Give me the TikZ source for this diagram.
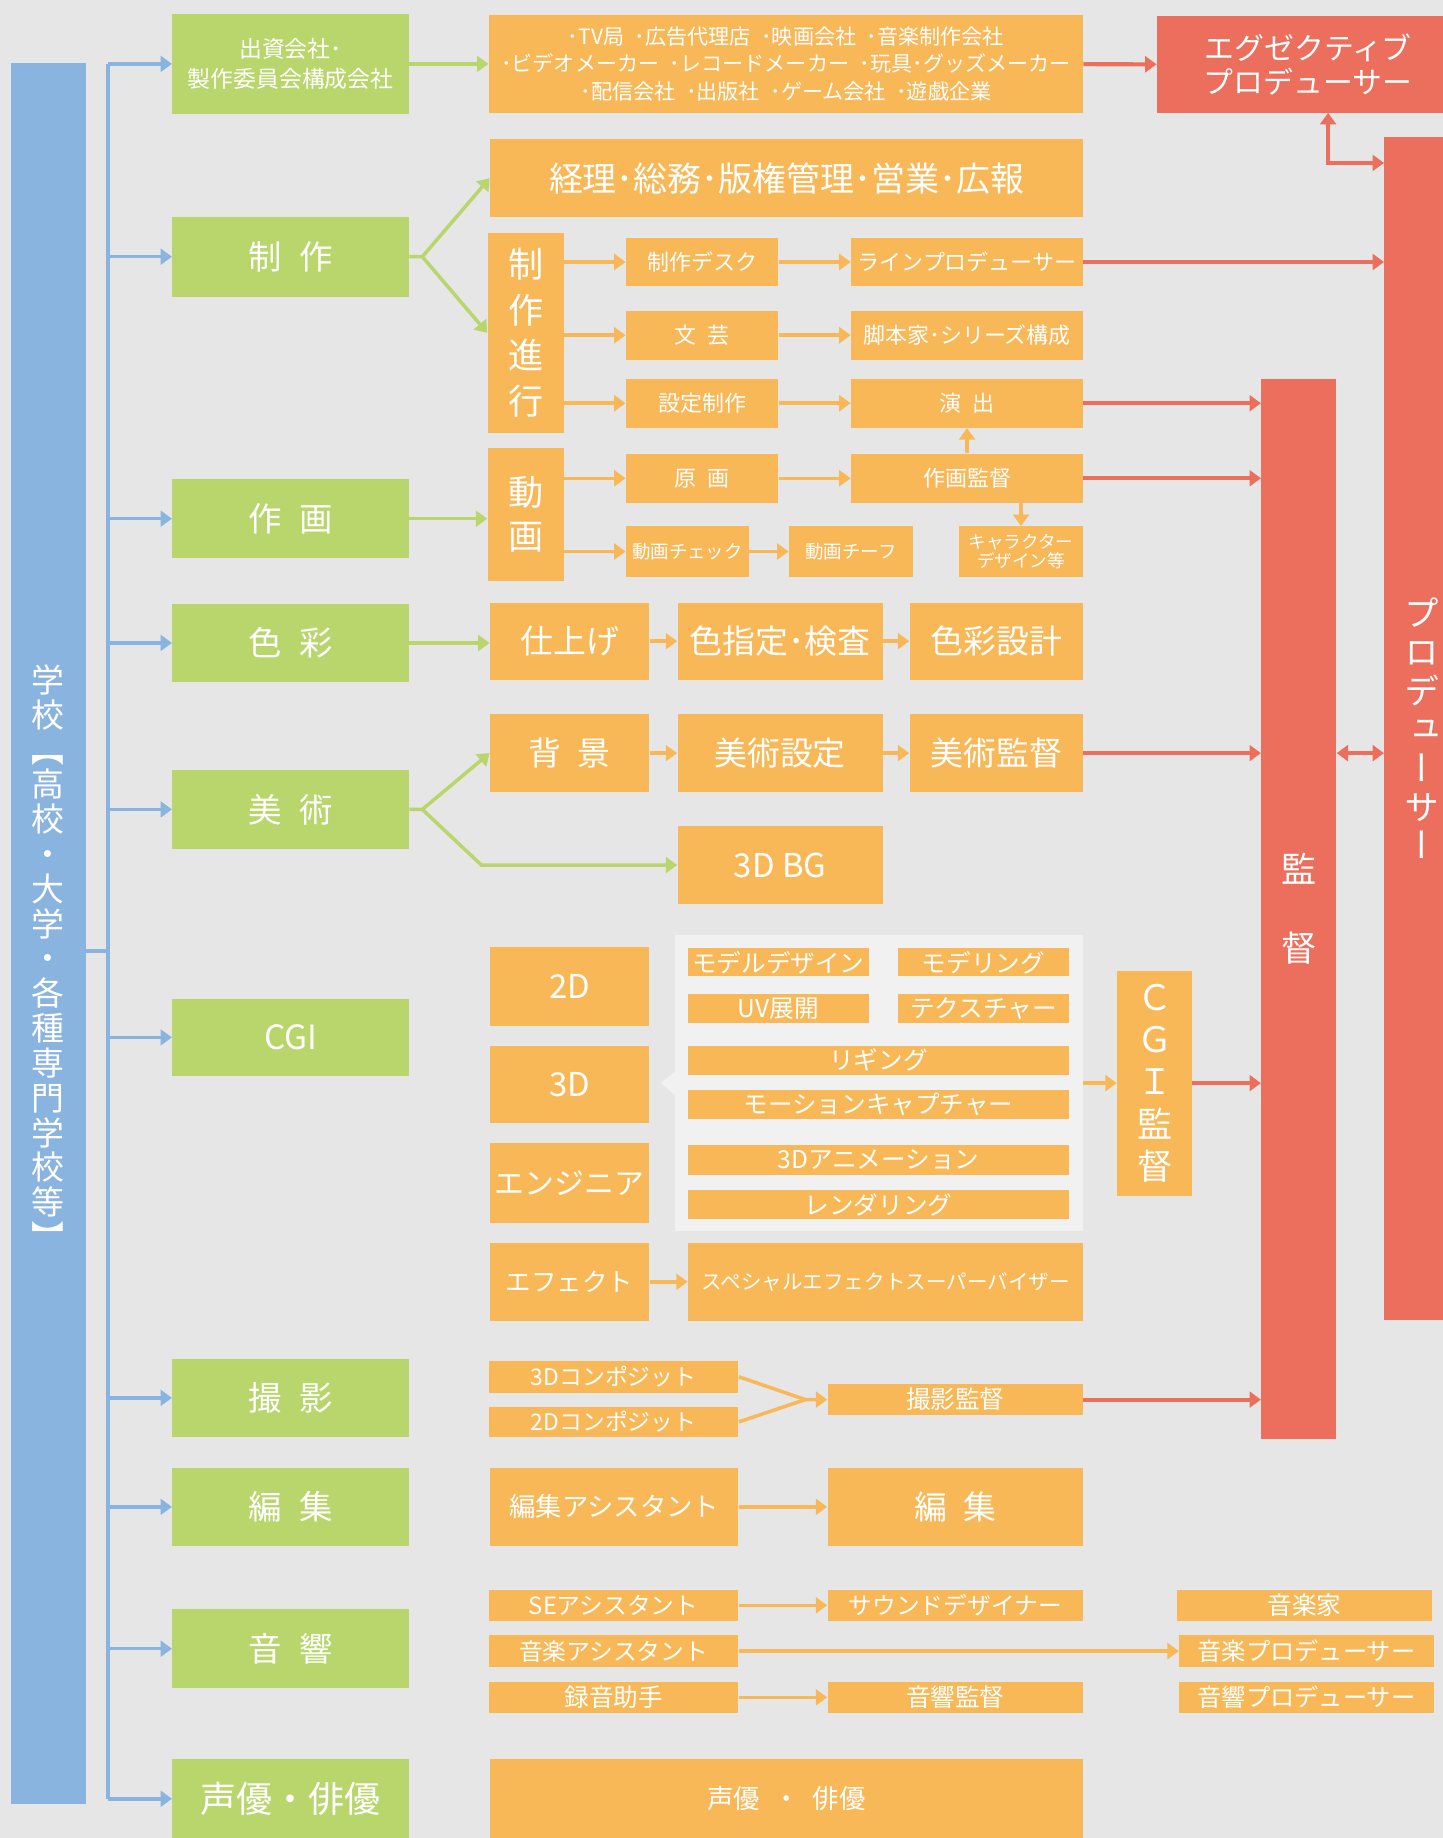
\documentclass[tikz,border=0pt]{standalone}
\usepackage{fontspec}
\setmainfont{Noto Sans CJK JP}
\newfontfamily\vjp[RawFeature=+vert]{Noto Sans CJK JP}
\usetikzlibrary{arrows.meta}
\definecolor{cbg}{HTML}{E6E6E6}
\definecolor{cgrn}{HTML}{B8D66C}
\definecolor{corg}{HTML}{F8B857}
\definecolor{cred}{HTML}{EC6E5C}
\definecolor{cblu}{HTML}{8AB4E0}
\definecolor{cpnl}{HTML}{F0F1F0}
\newdimen\upx \upx=0.02344cm
\newcommand\gap{\hspace{0.5em}}
\tikzset{
  wh/.style 2 args={minimum width=#1\upx,minimum height=#2\upx},
  bx/.style={text=white,inner sep=0pt,align=center},
  gb/.style={bx,fill=cgrn,minimum width=202\upx,font=\fontsize{19}{23}\selectfont},
  ob/.style={bx,fill=corg},
  rb/.style={bx,fill=cred},
  hd/.style={-{Triangle[length=6.5pt,width=9pt]}},
  ba/.style={draw=cblu,line width=2pt,hd},
  ga/.style={draw=cgrn,line width=2pt,hd},
  oa/.style={draw=corg,line width=2pt,hd},
  ra/.style={draw=cred,line width=2.3pt,hd},
  rd/.style={draw=cred,line width=2.3pt,{Triangle[length=6.5pt,width=9pt]}-{Triangle[length=6.5pt,width=9pt]}},
  vt/.style={font=\vjp\fontsize{20}{#1}\selectfont},
  big/.style={font=\fontsize{18.7}{22}\selectfont},
  mid/.style={font=\fontsize{17}{20}\selectfont},
  sml/.style={font=\fontsize{12.5}{15}\selectfont},
  sub/.style={font=\fontsize{14}{16}\selectfont},
  tny/.style={font=\fontsize{10.5}{12}\selectfont}
}
\begin{document}
\begin{tikzpicture}[x=0.02344cm,y=-0.02344cm]
  \useasboundingbox(0,0)rectangle(1231,1568);
  \fill[cbg](0,0)rectangle(1231,1568);
  \node[bx,fill=cblu,wh={64}{1485}](s)at(41,796.5){};
  \node[bx,font=\vjp\fontsize{18.7}{19.8}\selectfont](st)at([yshift=-20\upx]s.center){学\\校\\【\\高\\校\\・\\大\\学\\・\\各\\種\\専\\門\\学\\校\\等\\】};
  \coordinate(t)at(92,0);
  \node[gb,minimum height=85\upx,font=\fontsize{13}{16.7}\selectfont](g1)at(248,54.5){出資会社･\\製作委員会構成会社};
  \node[gb,minimum height=68\upx](g2)at(248,219){制\gap 作};
  \node[gb,minimum height=67\upx](g3)at(248,442.5){作\gap 画};
  \node[gb,minimum height=67\upx](g4)at(248,548.5){色\gap 彩};
  \node[gb,minimum height=67\upx](g5)at(248,690.5){美\gap 術};
  \node[gb,minimum height=66\upx](g6)at(248,885){CGI};
  \node[gb,minimum height=67\upx](g7)at(248,1192.5){撮\gap 影};
  \node[gb,minimum height=67\upx](g8)at(248,1285.5){編\gap 集};
  \node[gb,minimum height=67\upx](g9)at(248,1406.5){音\gap 響};
  \node[gb,minimum height=67\upx,font=\fontsize{20.5}{24}\selectfont](g10)at(248,1534.5){声優・俳優};
  \draw[draw=cblu,line width=2pt]([yshift=-15\upx]s.east)--([yshift=-15\upx]s.east-|t);
  \draw[draw=cblu,line width=2pt](g1.west-|t)--(g10.west-|t);
  \draw[ba](g1.west-|t)--(g1.west);
  \draw[ba](g2.west-|t)--(g2.west);
  \draw[ba](g3.west-|t)--(g3.west);
  \draw[ba](g4.west-|t)--(g4.west);
  \draw[ba](g5.west-|t)--(g5.west);
  \draw[ba](g6.west-|t)--(g6.west);
  \draw[ba](g7.west-|t)--(g7.west);
  \draw[ba](g8.west-|t)--(g8.west);
  \draw[ba](g9.west-|t)--(g9.west);
  \draw[ba](g10.west-|t)--(g10.west);
  \node[ob,wh={507}{83},font=\fontsize{12}{15.7}\selectfont](o1)at(670.5,54.5){･TV局\gap ･広告代理店\gap ･映画会社\gap ･音楽制作会社\\･ビデオメーカー\gap ･レコードメーカー\gap ･玩具･グッズメーカー\\･配信会社\gap ･出版社\gap ･ゲーム会社\gap ･遊戯企業};
  \node[ob,wh={506}{66},font=\fontsize{19.3}{22}\selectfont](o2)at(671,152){経理･総務･版権管理･営業･広報};
  \node[ob,wh={65}{170},vt=26](o3)at(448.5,284){制\\作\\進\\行};
  \node[ob,wh={130}{41},sml](o4)at(599,223.5){制作デスク};
  \node[ob,wh={198}{41},sml](o5)at(825,223.5){ラインプロデューサー};
  \node[ob,wh={130}{42},sml](o6)at(599,286){文\gap 芸};
  \node[ob,wh={198}{42},sml](o7)at(825,286){脚本家･シリーズ構成};
  \node[ob,wh={130}{42},sml](o8)at(599,344){設定制作};
  \node[ob,wh={198}{42},sml](o9)at(825,344){演\gap 出};
  \node[ob,wh={65}{114},vt=25](o10)at(448.5,439){動\\画};
  \node[ob,wh={130}{42},sml](o11)at(599,408){原\gap 画};
  \node[ob,wh={198}{42},sml](o12)at(825,408){作画監督};
  \node[ob,wh={105}{43},tny](o13)at(586.5,470.5){動画チェック};
  \node[ob,wh={106}{43},tny](o14)at(726,470.5){動画チーフ};
  \node[ob,wh={106}{43},font=\fontsize{10}{11.3}\selectfont](o15)at(871,470.5){キャラクター\\デザイン等};
  \node[ob,wh={136}{66},big](o16)at(486,547){仕上げ};
  \node[ob,wh={175}{66},big](o17)at(665.5,547){色指定･検査};
  \node[ob,wh={148}{66},big](o18)at(850,547){色彩設計};
  \node[ob,wh={136}{67},big](o19)at(486,642.5){背\gap 景};
  \node[ob,wh={175}{67},big](o20)at(665.5,642.5){美術設定};
  \node[ob,wh={148}{67},big](o21)at(850,642.5){美術監督};
  \node[ob,wh={175}{66},big](o22)at(665.5,738){3D BG};
  \node[ob,wh={136}{67},big](o23)at(486,841.5){2D};
  \node[ob,wh={136}{66},big](o24)at(486,925){3D};
  \node[ob,wh={136}{68},mid](o25)at(486,1009){エンジニア};
  \node[ob,wh={136}{67},font=\fontsize{14.5}{17}\selectfont](o26)at(486,1093.5){エフェクト};
  \node[ob,wh={337}{67},font=\fontsize{11.7}{14}\selectfont](o27)at(755.5,1093.5){スペシャルエフェクトスーパーバイザー};
  \node[fill=cpnl,inner sep=0pt,wh={348}{252}](pn)at(750,924){};
  \fill[cpnl](pn.west)++(0,-10)--++(-12,10)--++(12,10)--cycle;
  \node[ob,wh={154}{24},sub](p1)at(664,821){モデルデザイン};
  \node[ob,wh={146}{24},sub](p2)at(839,821){モデリング};
  \node[ob,wh={154}{25},sub](p3)at(664,860.5){UV展開};
  \node[ob,wh={146}{25},sub](p4)at(839,860.5){テクスチャー};
  \node[ob,wh={325}{25},sub](p5)at(749.5,904.5){リギング};
  \node[ob,wh={325}{25},sub](p6)at(749.5,942.5){モーションキャプチャー};
  \node[ob,wh={325}{25},sub](p7)at(749.5,989.5){3Dアニメーション};
  \node[ob,wh={325}{25},sub](p8)at(749.5,1027.5){レンダリング};
  \node[ob,wh={64}{192},vt=24](o28)at(985,924){Ｃ\\Ｇ\\Ｉ\\監\\督};
  \node[ob,wh={213}{27},font=\fontsize{13}{15}\selectfont](o29)at(523.5,1174.5){3Dコンポジット};
  \node[ob,wh={213}{26},font=\fontsize{13}{15}\selectfont](o30)at(523.5,1213){2Dコンポジット};
  \node[ob,wh={218}{26},sub](o31)at(815,1194){撮影監督};
  \node[ob,wh={212}{67},font=\fontsize{15}{18}\selectfont](o32)at(524,1285.5){編集アシスタント};
  \node[ob,wh={218}{67},big](o33)at(815,1285.5){編\gap 集};
  \node[ob,wh={213}{27},font=\fontsize{13.5}{15}\selectfont](o34)at(523.5,1369.5){SEアシスタント};
  \node[ob,wh={218}{27},font=\fontsize{13.5}{15}\selectfont](o35)at(815,1369.5){サウンドデザイナー};
  \node[ob,wh={218}{27},sub](o36)at(1113,1369.5){音楽家};
  \node[ob,wh={213}{27},font=\fontsize{13.5}{15}\selectfont](o37)at(523.5,1408.5){音楽アシスタント};
  \node[ob,wh={217}{27},font=\fontsize{13.8}{15}\selectfont](o38)at(1114.5,1408.5){音楽プロデューサー};
  \node[ob,wh={213}{26},sub](o39)at(523.5,1448){録音助手};
  \node[ob,wh={218}{26},sub](o40)at(815,1448){音響監督};
  \node[ob,wh={217}{26},font=\fontsize{13.8}{15}\selectfont](o41)at(1114.5,1448){音響プロデューサー};
  \node[ob,wh={506}{67},font=\fontsize{15}{18}\selectfont](o42)at(671,1534.5){声優\gap ・\gap 俳優};
  \node[rb,wh={258}{82},font=\fontsize{17}{19.3}\selectfont](r1)at(1116,55){エグゼクティブ\\プロデューサー};
  \node[rb,wh={64}{1009},vt=22](r2)at(1213,621.5){プ\\ロ\\デ\\ュ\\ー\\サ\\ー};
  \node[rb,wh={64}{905},vt=45](r3)at(1108,775.5){監\\督};
  \coordinate(c1)at(1133,139);
  \coordinate(c2)at(687,1194);
  \draw[ga](g1)--(o1);
  \draw[ga](g2.east)--++(11,0)coordinate(f1)--(o2.west);
  \draw[ga](f1)--(o3.west);
  \draw[ga](g3.east)--(g3.east-|o10.west);
  \draw[ga](g4.east)--(g4.east-|o16.west);
  \draw[ga](g5.east)--++(11,0)coordinate(f2)--(o19.west);
  \draw[ga](f2)--([xshift=-167\upx]o22.west)--(o22.west);
  \draw[oa](o3.east|-o4)--(o4);
  \draw[oa](o3.east|-o6)--(o6);
  \draw[oa](o3.east|-o8)--(o8);
  \draw[oa](o4)--(o5);
  \draw[oa](o6)--(o7);
  \draw[oa](o8)--(o9);
  \draw[oa](o10.east|-o11)--(o11);
  \draw[oa](o10.east|-o13)--(o13);
  \draw[oa](o11)--(o12);
  \draw[oa](o13)--(o14);
  \draw[oa](o12.north)--(o9.south);
  \draw[oa](o15.north|-o12.south)--(o15.north);
  \draw[oa](o16)--(o17);
  \draw[oa](o17)--(o18);
  \draw[oa](o19)--(o20);
  \draw[oa](o20)--(o21);
  \draw[oa](o26)--(o27);
  \draw[oa](pn.east)--(pn.east-|o28.west);
  \draw[oa](o29.east)--(c2)--(o31.west);
  \draw[draw=corg,line width=2pt](o30.east)--(c2);
  \draw[oa](o32)--(o33);
  \draw[oa](o34)--(o35);
  \draw[oa](o37)--(o38);
  \draw[oa](o39)--(o40);
  \draw[ra](o1)--(r1);
  \draw[rd](r1.south-|c1)--(c1)--(c1-|r2.west);
  \draw[ra](o5.east)--(o5.east-|r2.west);
  \draw[ra](o9.east)--(o9.east-|r3.west);
  \draw[ra](o12.east)--(o12.east-|r3.west);
  \draw[ra](o21.east)--(o21.east-|r3.west);
  \draw[ra](o28.east|-pn.east)--(pn.east-|r3.west);
  \draw[ra](o31.east)--(o31.east-|r3.west);
  \draw[rd](r3.east|-o21)--(r2.west|-o21);
\end{tikzpicture}
\end{document}
